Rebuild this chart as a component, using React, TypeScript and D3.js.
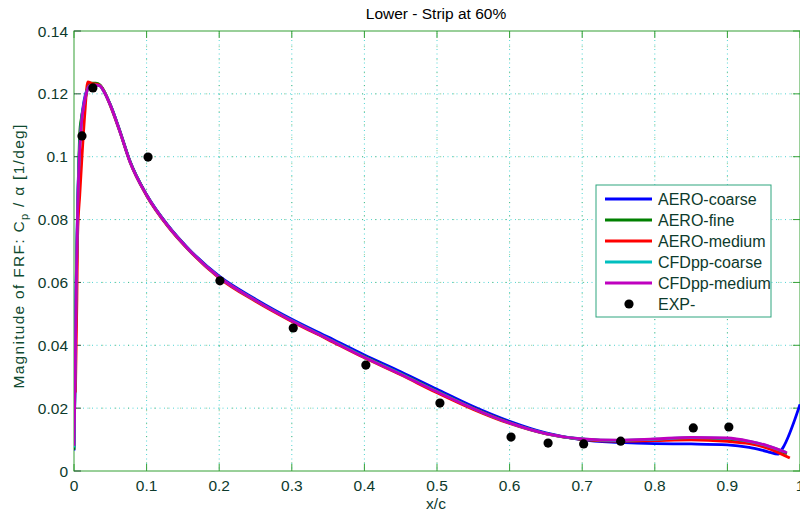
import React from "react";
import * as d3 from "d3";

// Chord positions and FRF magnitudes per series
const aeroCoarse: [number, number][] = [
  [0, 0.0065], [0.0015, 0.03], [0.003, 0.06], [0.005, 0.085], [0.007, 0.1], [0.01, 0.111],
  [0.014, 0.118], [0.018, 0.1215], [0.022, 0.1228], [0.03, 0.123], [0.036, 0.1226], [0.04, 0.1213],
  [0.05, 0.1165], [0.063, 0.1083], [0.077, 0.0986], [0.1, 0.0879], [0.13, 0.078], [0.155, 0.0714],
  [0.2, 0.062], [0.25, 0.0547], [0.3, 0.0483], [0.35, 0.0426], [0.4, 0.0369], [0.45, 0.0316],
  [0.5, 0.026], [0.55, 0.0205], [0.6, 0.0158], [0.65, 0.0121], [0.7, 0.0099], [0.75, 0.0091],
  [0.8, 0.0087], [0.85, 0.0086], [0.9, 0.0083], [0.93, 0.0075], [0.955, 0.0062], [0.97, 0.0054],
  [0.976, 0.0072], [1.0, 0.0212],
];

const aeroFine: [number, number][] = [
  [0, 0.0068], [0.0015, 0.03], [0.004, 0.07], [0.006, 0.092], [0.008, 0.108], [0.01, 0.112],
  [0.014, 0.1165], [0.018, 0.121], [0.022, 0.1234], [0.03, 0.1234], [0.036, 0.1228], [0.04, 0.1215],
  [0.05, 0.1166], [0.063, 0.1083], [0.077, 0.0986], [0.1, 0.0878], [0.13, 0.0778], [0.155, 0.0712],
  [0.2, 0.0617], [0.25, 0.0543], [0.3, 0.0479], [0.35, 0.0421], [0.4, 0.0364], [0.45, 0.031],
  [0.5, 0.0254], [0.55, 0.02], [0.6, 0.0154], [0.65, 0.0119], [0.7, 0.0101], [0.75, 0.0096],
  [0.8, 0.0099], [0.85, 0.0103], [0.9, 0.0101], [0.93, 0.0091], [0.955, 0.0076], [0.982, 0.0055],
];

const aeroMedium: [number, number][] = [
  [0.002, 0.025], [0.004, 0.055], [0.005, 0.075], [0.008, 0.088], [0.011, 0.1], [0.015, 0.114],
  [0.019, 0.1238], [0.025, 0.1233], [0.032, 0.123], [0.037, 0.1224], [0.041, 0.121],
  [0.05, 0.1162], [0.063, 0.108], [0.077, 0.0983], [0.1, 0.0876], [0.13, 0.0776], [0.155, 0.071],
  [0.2, 0.0614], [0.25, 0.054], [0.3, 0.0476], [0.35, 0.0418], [0.4, 0.036], [0.45, 0.0306],
  [0.5, 0.0249], [0.55, 0.0196], [0.6, 0.0151], [0.65, 0.0118], [0.7, 0.0101], [0.75, 0.0095],
  [0.8, 0.0097], [0.85, 0.0099], [0.9, 0.0094], [0.93, 0.0087], [0.955, 0.0073], [0.986, 0.0041],
];

const cfdCoarse: [number, number][] = [
  [0, 0.0075], [0.0015, 0.03], [0.003, 0.059], [0.005, 0.084], [0.007, 0.099], [0.01, 0.1105],
  [0.014, 0.1172], [0.018, 0.1212], [0.022, 0.1226], [0.03, 0.1228], [0.036, 0.1225], [0.04, 0.1212],
  [0.05, 0.1165], [0.063, 0.1082], [0.077, 0.0985], [0.1, 0.0878], [0.13, 0.0778], [0.155, 0.0712],
  [0.2, 0.0617], [0.25, 0.0543], [0.3, 0.0479], [0.35, 0.0421], [0.4, 0.0363], [0.45, 0.0309],
  [0.5, 0.0253], [0.55, 0.0199], [0.6, 0.0153], [0.65, 0.0119], [0.7, 0.0102], [0.75, 0.0097],
  [0.8, 0.0101], [0.85, 0.0106], [0.9, 0.0104], [0.93, 0.0094], [0.955, 0.008], [0.98, 0.006],
];

const cfdMedium: [number, number][] = [
  [0, 0.008], [0.0015, 0.03], [0.003, 0.058], [0.005, 0.083], [0.007, 0.098], [0.01, 0.11],
  [0.014, 0.117], [0.018, 0.121], [0.022, 0.1226], [0.03, 0.1228], [0.036, 0.1225], [0.04, 0.1212],
  [0.05, 0.1165], [0.063, 0.1082], [0.077, 0.0985], [0.1, 0.0878], [0.13, 0.0778], [0.155, 0.0712],
  [0.2, 0.0617], [0.25, 0.0543], [0.3, 0.0478], [0.35, 0.042], [0.4, 0.0362], [0.45, 0.0308],
  [0.5, 0.0252], [0.55, 0.0199], [0.6, 0.0153], [0.65, 0.0119], [0.7, 0.0102], [0.75, 0.0098],
  [0.8, 0.0102], [0.85, 0.0107], [0.9, 0.0105], [0.93, 0.0095], [0.955, 0.0081], [0.982, 0.0058],
];

const expX = [0.011, 0.026, 0.102, 0.201, 0.302, 0.402, 0.504, 0.602, 0.653, 0.702, 0.753, 0.853, 0.902];
const expY = [0.1066, 0.1219, 0.0999, 0.0605, 0.0455, 0.0337, 0.0216, 0.0108, 0.0089, 0.0086, 0.0095, 0.0137, 0.014];

const seriesNames = ["AERO-coarse", "AERO-fine", "AERO-medium", "CFDpp-coarse", "CFDpp-medium"];
const seriesColors = ["#0000ff", "#008000", "#ff0000", "#00bfbf", "#bf00bf"];
const seriesData = [aeroCoarse, aeroFine, aeroMedium, cfdCoarse, cfdMedium];

const xTicks = [0, 0.1, 0.2, 0.3, 0.4, 0.5, 0.6, 0.7, 0.8, 0.9, 1];
const xTickLabels = ["0", "0.1", "0.2", "0.3", "0.4", "0.5", "0.6", "0.7", "0.8", "0.9", "1"];
const yTicks = [0, 0.02, 0.04, 0.06, 0.08, 0.1, 0.12, 0.14];
const yTickLabels = ["0", "0.02", "0.04", "0.06", "0.08", "0.1", "0.12", "0.14"];

const W = 800;
const H = 513;
const left = 74;
const right = 800;
const top = 31;
const bottom = 471;

const FONT = "Arial, 'Liberation Sans', sans-serif";
const AXIS = "#35a035";
const TEXT = "#0d3a2c";

export default function App() {
  const x = d3.scaleLinear().domain([0, 1]).range([left, right]);
  const y = d3.scaleLinear().domain([0, 0.14]).range([bottom, top]);
  const line = d3
    .line<[number, number]>()
    .x((d) => x(d[0]))
    .y((d) => y(d[1]))
    .curve(d3.curveMonotoneX);

  const tickLen = 7;

  return (
    <svg
      width={W}
      height={H}
      style={{ position: "fixed", left: 0, top: 0, background: "#fff" }}
      fontFamily={FONT}
    >
      <rect x={0} y={0} width={W} height={H} fill="#fff" />
      <defs>
        <clipPath id="plot">
          <rect x={left} y={top} width={right - left} height={bottom - top} />
        </clipPath>
      </defs>

      {/* dotted grid */}
      <g>
        {xTicks.slice(1, -1).map((t) => (
          <g key={"gx" + t}>
            <line x1={x(t)} x2={x(t)} y1={top} y2={bottom} stroke="#4fd4d4" strokeDasharray="1,3.5" />
            <line x1={x(t)} x2={x(t)} y1={top} y2={bottom} stroke="#3aa03a" strokeDasharray="1,12" strokeDashoffset={-2.2} opacity={0.6} />
          </g>
        ))}
        {yTicks.slice(1, -1).map((t) => (
          <g key={"gy" + t}>
            <line x1={left} x2={right} y1={y(t)} y2={y(t)} stroke="#4fd4d4" strokeDasharray="1,3.5" />
            <line x1={left} x2={right} y1={y(t)} y2={y(t)} stroke="#3aa03a" strokeDasharray="1,12" strokeDashoffset={-2.2} opacity={0.6} />
          </g>
        ))}
      </g>

      {/* axes box and ticks */}
      <rect x={left} y={top} width={right - left} height={bottom - top} fill="none" stroke={AXIS} strokeWidth={1} />
      {xTicks.map((t) => (
        <g key={"tx" + t}>
          <line x1={x(t)} x2={x(t)} y1={bottom} y2={bottom - tickLen} stroke={AXIS} />
          <line x1={x(t)} x2={x(t)} y1={top} y2={top + tickLen} stroke={AXIS} />
        </g>
      ))}
      {yTicks.map((t) => (
        <g key={"ty" + t}>
          <line x1={left} x2={left + tickLen} y1={y(t)} y2={y(t)} stroke="#2a5a3a" />
          <line x1={right} x2={right - tickLen} y1={y(t)} y2={y(t)} stroke={AXIS} />
        </g>
      ))}

      {/* tick labels */}
      {xTicks.map((t, i) => (
        <text key={"lx" + t} x={x(t)} y={491} textAnchor="middle" fontSize={15.5} fill={TEXT}>
          {xTickLabels[i]}
        </text>
      ))}
      {yTicks.map((t, i) => (
        <text key={"ly" + t} x={68} y={y(t) + 5.5} textAnchor="end" fontSize={15.5} fill={TEXT}>
          {yTickLabels[i]}
        </text>
      ))}

      {/* series */}
      <g clipPath="url(#plot)">
        {seriesData.map((data, i) => (
          <path
            key={seriesNames[i]}
            d={line(data) || ""}
            fill="none"
            stroke={seriesColors[i]}
            strokeWidth={2.8}
            strokeLinejoin="round"
          />
        ))}
        {expX.map((v, i) => (
          <circle key={"e" + i} cx={x(v)} cy={y(expY[i])} r={4.6} fill="#000" />
        ))}
      </g>

      {/* title and axis labels */}
      <text x={436} y={19} textAnchor="middle" fontSize={15.5} fill="#000">
        Lower - Strip at 60%
      </text>
      <text x={436} y={509} textAnchor="middle" fontSize={15.5} fill={TEXT}>
        x/c
      </text>
      <text
        transform={`translate(24, 256) rotate(-90)`}
        textAnchor="middle"
        fontSize={15.5}
        letterSpacing={1.3}
        fill="#0f4a30"
      >
        Magnitude of FRF: C
        <tspan fontSize={11} dy={4}>p</tspan>
        <tspan dy={-4}> / α [1/deg]</tspan>
      </text>

      {/* legend */}
      <g>
        <rect x={596} y={185} width={175} height={132} fill="#fff" stroke="#2fa57e" strokeWidth={1} />
        {seriesNames.map((name, i) => {
          const ry = 199 + i * 21;
          return (
            <g key={"lg" + name}>
              <line x1={605} x2={652} y1={ry} y2={ry} stroke={seriesColors[i]} strokeWidth={2.8} />
              <text x={658} y={ry + 5.5} fontSize={16} fill={TEXT}>
                {name}
              </text>
            </g>
          );
        })}
        <circle cx={629} cy={304} r={4.6} fill="#000" />
        <text x={658} y={309.5} fontSize={16} fill={TEXT}>
          EXP-
        </text>
      </g>
    </svg>
  );
}
